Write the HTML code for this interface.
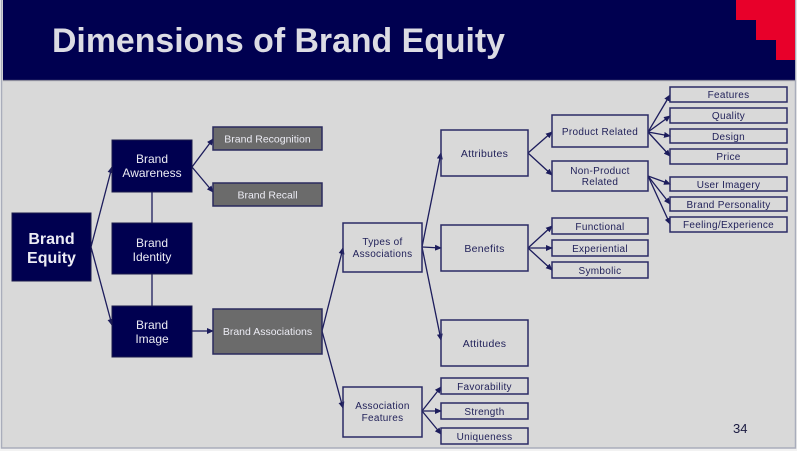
<!DOCTYPE html>
<html><head><meta charset="utf-8"><style>
html,body{margin:0;padding:0;background:#f2f2f2;}
svg{display:block;}
text{font-family:"Liberation Sans",sans-serif;}
</style></head><body>
<svg width="797" height="451" viewBox="0 0 797 451" xmlns="http://www.w3.org/2000/svg">
<defs>
<marker id="a" markerWidth="7" markerHeight="6" refX="6" refY="3" orient="auto" markerUnits="userSpaceOnUse">
<path d="M0,0 L7,3 L0,6 Z" fill="#1c1c5c"/>
</marker>
</defs>
<!-- slide -->
<rect x="1.5" y="-1" width="794" height="449" fill="#d9d9d9" stroke="#a9adbb" stroke-width="1.5"/>
<rect x="3" y="0" width="792" height="80" fill="#000050"/>
<line x1="3" y1="80.5" x2="795" y2="80.5" stroke="#8c8c9c" stroke-width="1.2"/>
<path d="M736,0 H795 V60 H776 V40 H756 V20 H736 Z" fill="#e8002a"/>
<text x="52" y="52" font-size="34" font-weight="bold" fill="#dcdce4" textLength="453" lengthAdjust="spacingAndGlyphs">Dimensions of Brand Equity</text>

<!-- connectors -->
<g stroke="#1c1c5c" stroke-width="1.3" fill="none">
<line x1="91" y1="247" x2="112" y2="167" marker-end="url(#a)"/>
<line x1="91" y1="247" x2="112" y2="325" marker-end="url(#a)"/>
<line x1="152" y1="192" x2="152" y2="223"/>
<line x1="152" y1="274" x2="152" y2="306"/>
<line x1="192" y1="167" x2="213" y2="139" marker-end="url(#a)"/>
<line x1="192" y1="167" x2="213" y2="192" marker-end="url(#a)"/>
<line x1="192" y1="331" x2="213" y2="331" marker-end="url(#a)"/>
<line x1="322" y1="331" x2="343" y2="248" marker-end="url(#a)"/>
<line x1="322" y1="331" x2="343" y2="408" marker-end="url(#a)"/>
<line x1="422" y1="247" x2="441" y2="153" marker-end="url(#a)"/>
<line x1="422" y1="247" x2="441" y2="248" marker-end="url(#a)"/>
<line x1="422" y1="247" x2="441" y2="340" marker-end="url(#a)"/>
<line x1="528" y1="153" x2="552" y2="132" marker-end="url(#a)"/>
<line x1="528" y1="153" x2="552" y2="175" marker-end="url(#a)"/>
<line x1="528" y1="248" x2="552" y2="226" marker-end="url(#a)"/>
<line x1="528" y1="248" x2="552" y2="248" marker-end="url(#a)"/>
<line x1="528" y1="248" x2="552" y2="270" marker-end="url(#a)"/>
<line x1="648" y1="132" x2="670" y2="95" marker-end="url(#a)"/>
<line x1="648" y1="132" x2="670" y2="116" marker-end="url(#a)"/>
<line x1="648" y1="132" x2="670" y2="136" marker-end="url(#a)"/>
<line x1="648" y1="132" x2="670" y2="156" marker-end="url(#a)"/>
<line x1="648" y1="176" x2="670" y2="184" marker-end="url(#a)"/>
<line x1="648" y1="176" x2="670" y2="204" marker-end="url(#a)"/>
<line x1="648" y1="176" x2="670" y2="224" marker-end="url(#a)"/>
<line x1="422" y1="411" x2="441" y2="387" marker-end="url(#a)"/>
<line x1="422" y1="411" x2="441" y2="411" marker-end="url(#a)"/>
<line x1="422" y1="411" x2="441" y2="434" marker-end="url(#a)"/>
</g>

<!-- navy boxes -->
<g fill="#000050" stroke="#1a1a4a" stroke-width="1">
<rect x="12" y="213" width="79" height="68"/>
<rect x="112" y="140" width="80" height="52"/>
<rect x="112" y="223" width="80" height="51"/>
<rect x="112" y="306" width="80" height="51"/>
</g>
<g fill="#ececf4" text-anchor="middle">
<text x="51.5" y="244" font-size="16" font-weight="bold">Brand</text>
<text x="51.5" y="263" font-size="16" font-weight="bold">Equity</text>
<text x="152" y="163" font-size="12">Brand</text>
<text x="152" y="177" font-size="12">Awareness</text>
<text x="152" y="247" font-size="12">Brand</text>
<text x="152" y="261" font-size="12">Identity</text>
<text x="152" y="329" font-size="12">Brand</text>
<text x="152" y="343" font-size="12">Image</text>
</g>

<!-- grey boxes -->
<g fill="#6b6b6b" stroke="#2a2a5e" stroke-width="1.5">
<rect x="213" y="127" width="109" height="23"/>
<rect x="213" y="183" width="109" height="23"/>
<rect x="213" y="309" width="109" height="45"/>
</g>
<g fill="#ececf4" text-anchor="middle" font-size="10.5">
<text x="267.5" y="142.5">Brand Recognition</text>
<text x="267.5" y="198.5">Brand Recall</text>
<text x="267.5" y="335">Brand Associations</text>
</g>

<!-- white boxes -->
<g fill="none" stroke="#2a2a66" stroke-width="1.5">
<rect x="343" y="223" width="79" height="49"/>
<rect x="343" y="387" width="79" height="50"/>
<rect x="441" y="130" width="87" height="46"/>
<rect x="441" y="225" width="87" height="46"/>
<rect x="441" y="320" width="87" height="46"/>
<rect x="441" y="378" width="87" height="16"/>
<rect x="441" y="403" width="87" height="16"/>
<rect x="441" y="428" width="87" height="16"/>
<rect x="552" y="115" width="96" height="32"/>
<rect x="552" y="161" width="96" height="30"/>
<rect x="552" y="218" width="96" height="16"/>
<rect x="552" y="240" width="96" height="16"/>
<rect x="552" y="262" width="96" height="16"/>
<rect x="670" y="87" width="117" height="15"/>
<rect x="670" y="108" width="117" height="15"/>
<rect x="670" y="129" width="117" height="14"/>
<rect x="670" y="149" width="117" height="15"/>
<rect x="670" y="177" width="117" height="14"/>
<rect x="670" y="197" width="117" height="14"/>
<rect x="670" y="217" width="117" height="15"/>
</g>
<g fill="#22225a" text-anchor="middle" font-size="10" letter-spacing="0.3">
<text x="382.5" y="245">Types of</text>
<text x="382.5" y="257">Associations</text>
<text x="382.5" y="409">Association</text>
<text x="382.5" y="421">Features</text>
<text x="484.5" y="157" font-size="10.5">Attributes</text>
<text x="484.5" y="252" font-size="10.5">Benefits</text>
<text x="484.5" y="347" font-size="10.5">Attitudes</text>
<text x="484.5" y="390">Favorability</text>
<text x="484.5" y="415">Strength</text>
<text x="484.5" y="440">Uniqueness</text>
<text x="600" y="135">Product Related</text>
<text x="600" y="174">Non-Product</text>
<text x="600" y="185">Related</text>
<text x="600" y="230">Functional</text>
<text x="600" y="252">Experiential</text>
<text x="600" y="274">Symbolic</text>
<text x="728.5" y="98">Features</text>
<text x="728.5" y="119">Quality</text>
<text x="728.5" y="140">Design</text>
<text x="728.5" y="160">Price</text>
<text x="728.5" y="188">User Imagery</text>
<text x="728.5" y="208">Brand Personality</text>
<text x="728.5" y="228">Feeling/Experience</text>
</g>
<text x="733" y="433" font-size="13" fill="#1a1a40">34</text>
</svg>
</body></html>
